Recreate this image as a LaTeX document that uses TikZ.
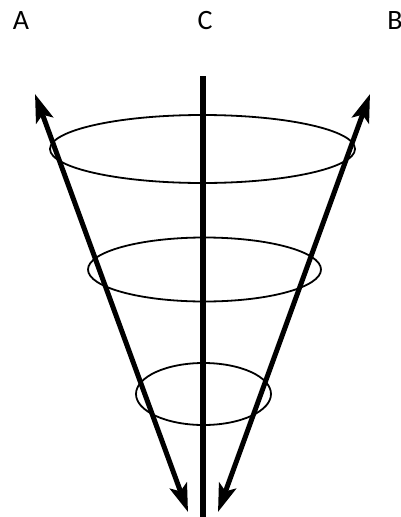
\documentclass[tikz,border=0pt]{standalone}
\usepackage{fontspec}
\setmainfont{Carlito}
\usepackage{tikz}
\usetikzlibrary{arrows.meta}
\tikzset{
  axislabel/.style={
    anchor=base,
    inner sep=0pt,
    font=\fontsize{28}{28}\selectfont
  },
  ring/.style={
    draw=black,
    line width=1.8pt
  },
  axisline/.style={
    draw=black,
    line width=6pt
  },
  doublearrow/.style={
    {Stealth[length=28pt,width=18pt,inset=6pt]}-{Stealth[length=28pt,width=18pt,inset=6pt]},
    line width=5pt,
    draw=black
  }
}

\begin{document}
\begin{tikzpicture}[x=1pt,y=-1pt]
\useasboundingbox (0,0) rectangle (400,517);
% labels
\node[axislabel] (labA) at (21,29) {A};
\node[axislabel] (labC) at (205,29) {C};
\node[axislabel] (labB) at (395,29) {B};
% end points
\coordinate (ctop) at (202.5,76);
\coordinate (cbot) at (202.5,517);
\coordinate (atop) at (35,94);
\coordinate (abot) at (188,512);
\coordinate (btop) at (370,94);
\coordinate (bbot) at (218,512);
% rings
\draw[ring] (202.5,149) ellipse [x radius=152.5, y radius=34];
\draw[ring] (204.5,269.5) ellipse [x radius=116.5, y radius=32];
\draw[ring] (203.5,394) ellipse [x radius=67.5, y radius=31];
% axes
\draw[axisline] (ctop) -- (cbot);
\draw[doublearrow] (atop) -- (abot);
\draw[doublearrow] (btop) -- (bbot);
\end{tikzpicture}
\end{document}
